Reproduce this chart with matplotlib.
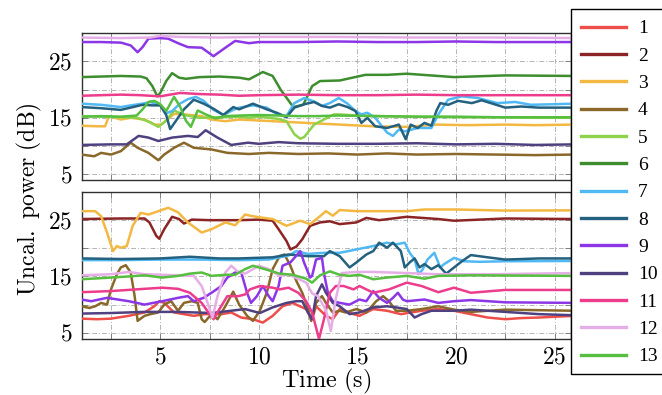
import matplotlib
matplotlib.use("Agg")
import matplotlib.pyplot as plt
from matplotlib.ticker import FixedLocator, MultipleLocator, FuncFormatter
from matplotlib.lines import Line2D
from matplotlib.patches import Rectangle

plt.rcParams['mathtext.fontset'] = 'cm'
plt.rcParams['font.family'] = ['Liberation Serif', 'DejaVu Serif']

labels = [str(i) for i in range(1, 14)]
colors = ['#EE4E4A', '#8B2424', '#F3B842', '#8A682A', '#8DD24B', '#3D8D2F',
          '#50B9F4', '#24617F', '#8C36E8', '#4F4080', '#EE3C8C', '#E6AEE6', '#56BF40']

# ---------------- top panel series ----------------
top3_t = [1, 1.8, 2.2, 2.4, 3, 3.5, 4.2, 4.7, 5.05, 5.4, 5.7, 6.2, 7.1, 7.6, 8.3, 9.0, 10.7, 12.4, 14.1, 15.8, 17.5, 19, 20.5, 22.5, 24, 26]
top3_v = [13.6, 13.5, 13.5, 15.3, 14.7, 15.0, 14.7, 13.8, 13.8, 14.8, 15.7, 15.6, 15.3, 14.7, 14.4, 14.7, 14.4, 14.1, 13.8, 13.5, 13.4, 13.8, 13.7, 13.8, 13.7, 13.8]

top4_t = [1, 1.65, 2.0, 2.5, 3.0, 3.5, 3.85, 4.4, 4.9, 5.2, 5.7, 6.2, 6.7, 7.6, 8.4, 9.5, 10.5, 12, 13.5, 15, 16.5, 18, 20, 22, 24, 26]
top4_v = [8.5, 8.2, 8.8, 8.5, 9.1, 10.6, 9.7, 8.8, 7.5, 8.5, 9.7, 10.6, 9.7, 9.4, 8.8, 8.6, 8.8, 8.6, 8.7, 8.5, 8.7, 8.5, 8.6, 8.5, 8.4, 8.5]

top5_t = [1, 2, 3, 3.8, 4.2, 4.5, 4.9, 5.3, 5.7, 6.2, 7, 8, 9, 9.5, 10, 10.5, 11, 11.4, 11.8, 12.1, 12.3, 12.8, 13.3, 13.8, 14.1, 15, 16, 18, 20, 22, 24, 26]
top5_v = [15.3, 15.2, 15.1, 15.0, 14.6, 14.2, 13.4, 14.5, 16.3, 15.5, 15.0, 15.1, 15.2, 15.0, 15.2, 15.0, 14.8, 14.4, 12.1, 11.3, 11.6, 13.8, 14.7, 15.6, 15.6, 15.4, 15.3, 15.2, 15.1, 15.1, 15.0, 15.0]

top6_t = [1, 2, 3, 4, 4.3, 4.6, 4.85, 5.0, 5.3, 5.6, 5.95, 6.3, 7, 8, 9, 9.5, 10.2, 10.7, 11.1, 11.6, 11.75, 12.25, 12.7, 13.1, 14.1, 15.4, 16.5, 17.5, 19.9, 22.5, 26]
top6_v = [22.2, 22.3, 22.4, 22.3, 22.0, 20.6, 18.8, 19.4, 21.5, 22.9, 22.1, 21.9, 22.2, 22.3, 22.1, 21.8, 23.1, 22.4, 20.0, 17.6, 16.9, 17.3, 20.6, 21.5, 21.6, 22.6, 22.6, 22.8, 22.2, 22.5, 22.4]

top7_t = [1, 2, 2.5, 3, 3.5, 4.1, 4.5, 5.0, 5.3, 5.6, 6.0, 6.4, 6.8, 7.2, 7.7, 8.2, 8.7, 9.0, 9.7, 10.4, 10.9, 11.4, 11.8, 12.3, 12.8, 13.2, 13.6, 14.05, 14.5, 14.9, 15.2, 15.5, 15.9, 16.5, 16.8, 17.1, 17.4, 18.05, 18.75, 19.1, 19.6, 20.3, 21.1, 22.1, 23, 23.8, 26]
top7_v = [17.5, 17.3, 17.1, 16.9, 17.2, 17.5, 17.8, 17.2, 15.8, 16.2, 17.5, 18.3, 18.7, 18.0, 16.4, 15.5, 16.4, 16.8, 17.2, 16.8, 15.7, 15.3, 17.6, 18.5, 17.9, 17.1, 17.6, 18.5, 17.5, 16.2, 15.6, 15.9, 15.0, 12.4, 11.8, 12.9, 12.6, 13.2, 13.2, 15.6, 18.2, 18.8, 18.5, 17.6, 17.8, 17.3, 17.5]

top8_t = [1, 2, 3, 4.1, 4.6, 5.0, 5.3, 5.5, 5.8, 6.2, 6.7, 7.2, 7.7, 8.2, 8.7, 9.0, 9.7, 10.4, 10.9, 11.4, 11.8, 12.3, 12.8, 13.2, 13.6, 14.05, 14.5, 14.9, 15.2, 15.5, 15.9, 16.5, 16.8, 17.1, 17.45, 17.7, 18.05, 18.4, 18.75, 19.0, 19.2, 19.6, 20.1, 20.8, 21.3, 22.5, 23.3, 24.2, 26]
top8_v = [16.9, 16.7, 16.4, 17.3, 17.2, 17.2, 15.5, 13.0, 14.5, 16.5, 18.2, 17.5, 16.6, 15.5, 16.9, 16.5, 17.5, 16.5, 15.9, 15.1, 16.8, 17.4, 17.8, 17.1, 16.8, 17.4, 16.9, 16.2, 14.1, 15.0, 13.5, 13.2, 13.5, 13.8, 11.2, 13.8, 13.2, 14.1, 13.6, 16.2, 17.6, 17.3, 18.0, 17.6, 18.1, 16.8, 17.0, 16.8, 16.8]

top9_t = [1, 2, 3, 3.5, 3.85, 4.1, 4.4, 5.0, 5.4, 5.9, 6.4, 7.1, 7.7, 8.3, 8.8, 9.5, 10, 12, 14, 16, 18, 20, 22, 24, 26]
top9_v = [28.4, 28.4, 28.3, 27.8, 26.6, 27.5, 29.0, 29.1, 29.0, 28.2, 27.5, 27.4, 25.9, 27.4, 28.6, 28.2, 28.4, 28.4, 28.5, 28.4, 28.4, 28.5, 28.4, 28.4, 28.4]

top10_t = [1, 2.5, 3.3, 3.9, 4.4, 4.9, 5.6, 6.4, 6.9, 7.3, 7.9, 8.6, 9.45, 10, 11, 12, 14, 16, 18, 20, 22, 24, 26]
top10_v = [10.2, 10.3, 10.3, 11.8, 11.5, 10.9, 11.5, 11.8, 11.6, 12.8, 11.5, 10.2, 10.6, 10.4, 10.7, 10.5, 10.4, 10.4, 10.5, 10.3, 10.4, 10.2, 10.3]

top11_t = [1, 2, 3, 4, 5, 5.5, 6, 7, 8, 9, 10, 12, 14, 16, 18, 20, 22, 24, 26]
top11_v = [18.9, 19.0, 19.1, 19.0, 18.8, 19.1, 19.4, 19.2, 19.1, 18.9, 19.0, 19.1, 19.0, 19.0, 19.1, 19.0, 19.0, 19.0, 19.0]

top12_t = [1, 3, 4.5, 5, 6, 8, 10, 14, 18, 22, 26]
top12_v = [29.2, 29.1, 29.2, 29.5, 29.3, 29.2, 29.3, 29.3, 29.2, 29.2, 29.1]

top13_t = [1, 2, 3, 3.8, 4.1, 4.4, 4.7, 5.0, 5.3, 5.7, 6.0, 6.3, 6.55, 6.9, 7.3, 7.8, 8.3, 9, 10, 11, 12, 13, 14, 16, 18, 20, 22, 24, 26]
top13_v = [15.2, 15.3, 15.2, 15.4, 16.5, 17.8, 18.0, 17.4, 16.2, 18.7, 17.0, 14.5, 13.4, 16.3, 15.6, 14.9, 15.3, 15.4, 15.5, 15.4, 15.3, 15.3, 15.4, 15.3, 15.2, 15.2, 15.1, 15.1, 15.1]

# ---------------- bottom panel series ----------------
bot1_t = [1, 1.8, 2.5, 3.4, 4.2, 4.7, 4.95, 5.2, 5.7, 6.2, 6.7, 7.25, 8.1, 8.6, 9.1, 9.7, 10.2, 10.7, 11.2, 11.7, 12.4, 12.7, 12.9, 13.4, 13.75, 14.1, 14.8, 15.1, 15.8, 16.5, 17.2, 18.25, 19.1, 19.9, 20.75, 21.6, 22.5, 23.3, 24.2, 26]
bot1_v = [7.5, 7.4, 7.5, 8.0, 8.6, 9.7, 10.6, 10.3, 8.6, 8.3, 8.0, 8.3, 8.3, 8.6, 7.7, 7.4, 6.8, 8.0, 9.7, 10.3, 9.2, 7.4, 9.7, 8.0, 7.4, 9.2, 8.3, 8.0, 9.2, 8.9, 8.3, 8.9, 9.2, 8.9, 8.3, 7.7, 7.4, 7.6, 7.7, 8.0]

bot2_t = [1, 3, 4.2, 4.45, 4.8, 4.95, 5.2, 5.6, 5.95, 6.2, 6.6, 7.5, 9, 10, 10.7, 11.0, 11.4, 11.6, 11.9, 12.2, 12.6, 13.1, 13.6, 14.1, 14.95, 15.45, 16.1, 17.5, 19.1, 19.9, 22.5, 26]
bot2_v = [25.2, 25.3, 25.3, 24.6, 22.2, 21.7, 23.4, 25.6, 25.2, 24.4, 25.1, 25.0, 25.0, 25.1, 24.9, 23.4, 21.3, 19.8, 20.3, 21.6, 24.0, 24.6, 24.8, 24.3, 24.6, 25.4, 25.0, 25.6, 25.2, 24.9, 25.3, 25.2]

bot3_t = [1, 1.7, 2.0, 2.3, 2.6, 2.8, 3.0, 3.3, 3.6, 4.0, 4.4, 4.9, 5.4, 5.9, 6.4, 7.1, 7.6, 8.3, 8.8, 9.3, 9.55, 10.05, 10.7, 11.4, 12.1, 12.6, 13.1, 13.4, 13.75, 14.1, 15, 16, 17.5, 18.4, 20, 22.5, 26]
bot3_v = [26.6, 26.6, 25.7, 22.8, 19.5, 20.4, 20.1, 20.4, 24.0, 26.3, 26.0, 26.6, 27.2, 26.4, 24.6, 22.8, 23.4, 24.6, 24.1, 26.0, 25.8, 25.5, 25.2, 24.0, 24.9, 24.3, 25.7, 26.6, 25.8, 26.8, 26.6, 26.6, 26.6, 26.9, 26.9, 26.7, 26.75]

bot4_t = [1, 1.4, 1.7, 2.0, 2.3, 2.5, 2.8, 3.0, 3.25, 3.5, 3.7, 3.85, 4.2, 4.5, 4.9, 5.2, 5.55, 5.9, 6.2, 6.6, 6.9, 7.1, 7.25, 7.6, 7.9, 8.3, 8.7, 9.0, 9.4, 9.7, 10.05, 10.4, 10.7, 11.05, 11.3, 11.6, 11.9, 12.2, 12.5, 12.65, 12.9, 13.2, 13.4, 13.75, 14.1, 14.4, 14.95, 15.45, 15.95, 16.3, 16.6, 16.95, 17.5, 18.25, 19.1, 19.9, 20.75, 22.5, 26]
bot4_v = [9.7, 9.4, 9.7, 10.3, 10.0, 12.7, 15.4, 16.6, 17.0, 15.7, 11.5, 7.1, 8.0, 8.3, 8.6, 10.0, 10.6, 8.9, 10.3, 10.6, 10.3, 7.4, 6.9, 8.3, 7.4, 9.7, 12.3, 10.0, 8.0, 7.1, 8.9, 12.1, 16.3, 18.6, 18.9, 16.9, 14.2, 12.1, 9.2, 7.1, 10.3, 11.5, 10.3, 8.6, 8.9, 8.6, 9.2, 8.6, 10.6, 11.5, 10.6, 8.9, 8.9, 9.2, 9.7, 9.1, 8.7, 9.1, 8.9]

bot7_t = [1, 3, 5, 7, 9, 10.5, 11.5, 11.9, 12.5, 13.3, 14.1, 14.95, 15.8, 16.5, 16.95, 17.4, 17.65, 17.9, 18.1, 18.3, 18.55, 18.9, 19.2, 19.4, 19.9, 20.4, 21.2, 22.5, 26]
bot7_v = [17.9, 17.9, 18.0, 18.0, 17.9, 18.0, 18.7, 19.5, 19.0, 19.2, 19.2, 19.8, 20.4, 21.0, 20.7, 21.0, 19.2, 18.0, 15.4, 16.2, 18.0, 19.2, 16.6, 17.2, 18.3, 17.7, 17.6, 17.7, 17.75]

bot8_t = [1, 3, 5, 6.5, 8, 9, 10.7, 11.5, 12.5, 13.3, 13.6, 14.1, 14.6, 14.95, 15.45, 15.8, 16.1, 16.5, 16.8, 17.2, 17.4, 17.65, 17.9, 18.15, 18.4, 18.75, 19.1, 19.5, 19.9, 20.3, 20.75, 21.6, 22.5, 24.2, 26]
bot8_v = [18.2, 18.1, 18.2, 18.5, 18.2, 18.2, 18.4, 18.9, 18.6, 18.6, 19.5, 18.6, 16.6, 17.5, 18.9, 19.5, 21.0, 20.1, 21.0, 19.5, 16.6, 17.5, 18.2, 16.6, 17.2, 16.3, 17.0, 15.5, 16.6, 17.7, 18.8, 18.4, 18.0, 18.2, 18.2]

bot9_t = [1, 1.5, 2.3, 3.4, 4.2, 5.1, 5.9, 6.4, 6.7, 7.2, 7.6, 8.1, 8.4, 8.8, 9.1, 9.4, 9.6, 9.9, 10.2, 10.5, 10.7, 11.0, 11.2, 11.6, 11.8, 12.1, 12.3, 12.6, 12.7, 12.9, 13.2, 13.3, 13.5, 13.75, 14.1, 14.6, 15.1, 15.45, 15.8, 16.1, 16.5, 16.8, 17.05, 17.3, 17.5, 18.4, 19.1, 19.9, 20.75, 22.5, 26]
bot9_v = [10.9, 10.6, 11.2, 10.6, 10.0, 10.6, 11.2, 11.5, 10.6, 11.2, 12.1, 13.3, 14.8, 15.7, 15.8, 12.1, 10.3, 11.5, 13.3, 11.5, 10.6, 13.3, 16.9, 17.5, 18.3, 19.5, 17.4, 14.8, 15.1, 18.0, 18.3, 15.6, 12.1, 10.6, 10.3, 10.0, 10.9, 10.6, 12.4, 11.2, 10.3, 11.2, 12.1, 10.9, 10.6, 10.9, 10.3, 10.6, 10.8, 10.4, 10.3]

bot10_t = [1, 2.5, 4.2, 5.9, 7.6, 9.3, 10.05, 10.7, 11.4, 11.9, 12.2, 12.5, 12.7, 12.9, 13.2, 13.4, 13.75, 14.1, 14.6, 15.1, 15.8, 16.5, 16.95, 17.5, 17.9, 18.25, 18.75, 19.9, 20.75, 22.5, 24.2, 26]
bot10_v = [8.4, 8.5, 8.7, 8.7, 8.5, 9.2, 8.5, 9.5, 10.3, 10.6, 10.6, 8.5, 7.4, 11.5, 13.6, 12.1, 10.3, 9.7, 8.3, 8.6, 9.5, 9.7, 9.5, 9.2, 7.7, 8.3, 8.9, 8.9, 9.1, 8.7, 8.3, 8.1]

bot11_t = [1, 2.5, 4.2, 5.1, 5.9, 6.5, 7.1, 7.5, 7.7, 8.0, 8.4, 8.95, 9.3, 9.55, 10.05, 10.7, 11.05, 11.5, 12.0, 12.4, 12.7, 13.05, 13.3, 13.6, 13.9, 14.3, 14.8, 15.1, 15.45, 15.8, 16.6, 17.5, 18.25, 19.1, 19.9, 20.75, 22.5, 26]
bot11_v = [12.2, 12.4, 12.8, 13.0, 12.8, 12.1, 10.3, 8.3, 7.4, 9.2, 11.5, 11.5, 11.8, 12.7, 13.3, 13.0, 12.7, 13.0, 12.1, 10.6, 8.6, 3.9, 7.4, 12.1, 13.3, 13.3, 12.7, 13.3, 12.7, 12.1, 12.7, 13.9, 13.3, 12.2, 13.0, 12.1, 12.6, 12.6]

bot12_t = [1, 2.5, 3.4, 4.2, 5.9, 6.7, 7.1, 7.4, 7.65, 7.9, 8.3, 8.6, 8.95, 9.3, 10.0, 10.5, 11.05, 11.5, 12.4, 12.7, 13.0, 13.4, 13.65, 13.9, 14.2, 14.95, 15.8, 17.5, 19, 22, 26]
bot12_v = [15.2, 15.4, 15.8, 15.4, 15.2, 15.1, 13.3, 10.3, 7.7, 11.5, 15.7, 16.9, 15.8, 15.5, 16.9, 16.3, 15.1, 15.4, 13.9, 12.0, 11.5, 9.0, 5.3, 11.0, 15.6, 15.8, 15.8, 15.6, 15.4, 15.4, 15.6]

bot13_t = [1, 2.5, 3.4, 4.2, 5.1, 5.9, 6.5, 7.1, 7.6, 8.3, 8.8, 9.3, 9.7, 10.3, 11.05, 11.7, 12.4, 12.7, 13.1, 13.6, 14.1, 14.6, 15.1, 15.8, 16.5, 17.5, 18.4, 19.1, 20.75, 26]
bot13_v = [14.5, 14.8, 15.0, 15.2, 14.8, 15.1, 15.5, 15.7, 15.1, 15.3, 15.3, 16.3, 16.9, 16.3, 15.5, 15.3, 14.6, 13.9, 15.2, 15.9, 15.3, 15.1, 15.3, 14.5, 14.8, 15.1, 14.6, 15.1, 15.2, 15.1]

top_series = {3: (top3_t, top3_v), 4: (top4_t, top4_v), 5: (top5_t, top5_v), 6: (top6_t, top6_v),
              7: (top7_t, top7_v), 8: (top8_t, top8_v), 9: (top9_t, top9_v), 10: (top10_t, top10_v),
              11: (top11_t, top11_v), 12: (top12_t, top12_v), 13: (top13_t, top13_v)}
bot_series = {1: (bot1_t, bot1_v), 2: (bot2_t, bot2_v), 3: (bot3_t, bot3_v), 4: (bot4_t, bot4_v),
              7: (bot7_t, bot7_v), 8: (bot8_t, bot8_v), 9: (bot9_t, bot9_v), 10: (bot10_t, bot10_v),
              11: (bot11_t, bot11_v), 12: (bot12_t, bot12_v), 13: (bot13_t, bot13_v)}

W, H = 662, 395
fig = plt.figure(figsize=(6.62, 3.95), dpi=100)
L, R = 82 / W, 571 / W
ax1 = fig.add_axes([L, 1 - 180 / H, R - L, (180 - 33) / H])
ax2 = fig.add_axes([L, 1 - 339.3 / H, R - L, (339.3 - 191.7) / H])

fmt = FuncFormatter(lambda v, p: r'$%d$' % round(v))
for ax, series, ylim in ((ax1, top_series, (4, 30)), (ax2, bot_series, (3.83, 30.06))):
    for k, (t, v) in series.items():
        ax.plot(t, v, color=colors[k - 1], lw=1.8, solid_capstyle='round',
                solid_joinstyle='round', zorder=3)
    ax.set_xlim(1.03, 25.83)
    ax.set_ylim(*ylim)
    ax.xaxis.set_major_locator(FixedLocator([5, 10, 15, 20, 25]))
    ax.xaxis.set_minor_locator(MultipleLocator(2.5))
    ax.yaxis.set_major_locator(FixedLocator([5, 15, 25]))
    ax.yaxis.set_minor_locator(MultipleLocator(5))
    ax.yaxis.set_major_formatter(fmt)
    ax.xaxis.set_major_formatter(fmt)
    ax.grid(True, which='both', color='#b4b4b4', lw=0.7, linestyle=(0, (5, 2, 1, 2)))
    ax.tick_params(which='both', direction='in', length=4, width=0.7, color='#808080',
                   labelsize=17, pad=7, top=True, right=True)
    ax.tick_params(axis='x', pad=6)
    for s in ax.spines.values():
        s.set_linewidth(1.0)
        s.set_color('#303030')

ax1.tick_params(labelbottom=False)
fig.text((L + R) / 2, 1 - 387 / H, r'$\mathrm{Time\ (s)}$', fontsize=17.5,
         ha='center', va='baseline')
fig.text(0.045, 0.496, r'$\mathrm{Uncal.\ power\ (dB)}$', fontsize=17, rotation=90,
         ha='center', va='center')

# legend box
box = Rectangle((571 / W, 1 - 374.3 / H), 100 / W, (374.3 - 9.3) / H, transform=fig.transFigure,
                facecolor='white', edgecolor='black', lw=1.0, zorder=4)
fig.patches.append(box)

handles = [Line2D([], [], color=c, lw=2.4) for c in colors]
leg = fig.legend(handles, labels, loc='upper left', bbox_to_anchor=(572 / W, 1 - 11.0 / H),
                 frameon=False, fontsize=14, handlelength=2.35, handletextpad=0.6,
                 labelspacing=0.5, borderpad=0.45, borderaxespad=0)
leg.set_zorder(5)

fig.savefig('out.png', dpi=100)
